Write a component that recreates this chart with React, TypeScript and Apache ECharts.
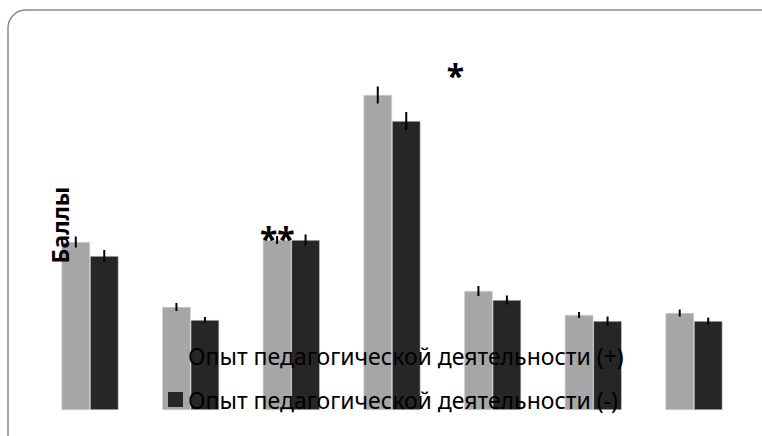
import React, { useEffect, useRef } from "react";
import * as echarts from "echarts";

const categories = ["1", "2", "3", "4", "5", "6", "7"];
const seriesNames = [
  "Опыт педагогической деятельности (+)",
  "Опыт педагогической деятельности (-)",
];
const valuesPlus = [16.8, 10.3, 17.0, 31.5, 11.9, 9.5, 9.7];
const valuesMinus = [15.4, 9.0, 17.0, 28.9, 11.0, 8.9, 8.9];
const errPlus = [0.55, 0.4, 0.4, 0.85, 0.5, 0.3, 0.35];
const errMinus = [0.6, 0.3, 0.55, 0.9, 0.45, 0.45, 0.35];
const sigCategory = [2, 3];
const sigText = ["**", "*"];
const sigLevel = [17.2, 33.5];
const sigShift = [-0.14, 0.63];
const yAxisTitle = "Баллы";

const FONT = "'Noto Sans', 'Open Sans', sans-serif";

export default function App() {
  const ref = useRef<HTMLDivElement>(null);
  useEffect(() => {
    if (!ref.current) return;
    const chart = echarts.init(ref.current, null, { renderer: "svg" });
    const errData = [
      ...valuesPlus.map((v, i) => [i, v, errPlus[i], -1]),
      ...valuesMinus.map((v, i) => [i, v, errMinus[i], 1]),
    ];
    const sigData = sigCategory.map((c, i) => [c, sigLevel[i], sigShift[i]]);
    chart.setOption({
      animation: false,
      backgroundColor: "#ffffff",
      grid: { left: 39.7, right: 17.7, top: 10, bottom: 26, containLabel: false },
      xAxis: {
        type: "category",
        data: categories,
        axisLine: { show: false },
        axisTick: { show: false },
        axisLabel: { show: false },
        splitLine: { show: false },
      },
      yAxis: {
        type: "value",
        min: 0,
        max: 40,
        axisLine: { show: false },
        axisTick: { show: false },
        axisLabel: { show: false },
        splitLine: { show: false },
      },
      legend: {
        orient: "vertical",
        left: 163,
        top: 339,
        itemWidth: 15,
        itemHeight: 15,
        itemGap: 21,
        icon: "rect",
        itemStyle: { borderWidth: 0 },
        textStyle: { fontFamily: FONT, fontSize: 23, color: "#000" },
        data: seriesNames,
      },
      series: [
        {
          name: seriesNames[0],
          type: "bar",
          data: valuesPlus,
          barWidth: "28.3%",
          barGap: "0%",
          itemStyle: { color: "#a6a6a6", borderColor: "#d0d0d0", borderWidth: 0.6 },
        },
        {
          name: seriesNames[1],
          type: "bar",
          data: valuesMinus,
          barWidth: "28.3%",
          barGap: "0%",
          itemStyle: { color: "#262626", borderColor: "#d0d0d0", borderWidth: 0.6 },
        },
        {
          type: "custom",
          z: 5,
          data: errData,
          encode: { x: 0, y: 1 },
          renderItem: (params: any, api: any) => {
            const idx = api.value(0);
            const v = api.value(1);
            const e = api.value(2);
            const side = api.value(3);
            const band = api.size([1, 0])[0];
            const top = api.coord([idx, v + e]);
            const bot = api.coord([idx, v - e]);
            const x = top[0] + side * band * 0.1415;
            return {
              type: "line",
              shape: { x1: x, y1: top[1], x2: x, y2: bot[1] },
              style: { stroke: "#000", lineWidth: 2 },
            };
          },
        },
        {
          type: "custom",
          z: 6,
          data: sigData,
          encode: { x: 0, y: 1 },
          renderItem: (params: any, api: any) => {
            const idx = api.value(0);
            const v = api.value(1);
            const shift = api.value(2);
            const band = api.size([1, 0])[0];
            const p = api.coord([idx, v]);
            return {
              type: "text",
              x: p[0] + shift * band,
              y: p[1],
              style: {
                text: sigText[params.dataIndex],
                fontFamily: FONT,
                fontSize: 32,
                fontWeight: "bold",
                fill: "#000",
                align: "center",
                verticalAlign: "middle",
              },
            };
          },
        },
      ],
      graphic: [
        {
          type: "rect",
          shape: { x: 8, y: 10, width: 775, height: 460, r: 18 },
          style: { fill: "none", stroke: "#8a8a8a", lineWidth: 1.5 },
          z: 0,
        },
        {
          type: "text",
          x: 60,
          y: 225,
          rotation: Math.PI / 2,
          style: {
            text: yAxisTitle,
            fontFamily: FONT,
            fontSize: 23,
            fontWeight: "bold",
            fill: "#000",
            align: "center",
            verticalAlign: "middle",
          },
          z: 10,
        },
      ],
    });
    return () => chart.dispose();
  }, []);
  return (
    <div
      ref={ref}
      style={{ position: "absolute", left: 0, top: 0, width: 762, height: 436 }}
    />
  );
}
